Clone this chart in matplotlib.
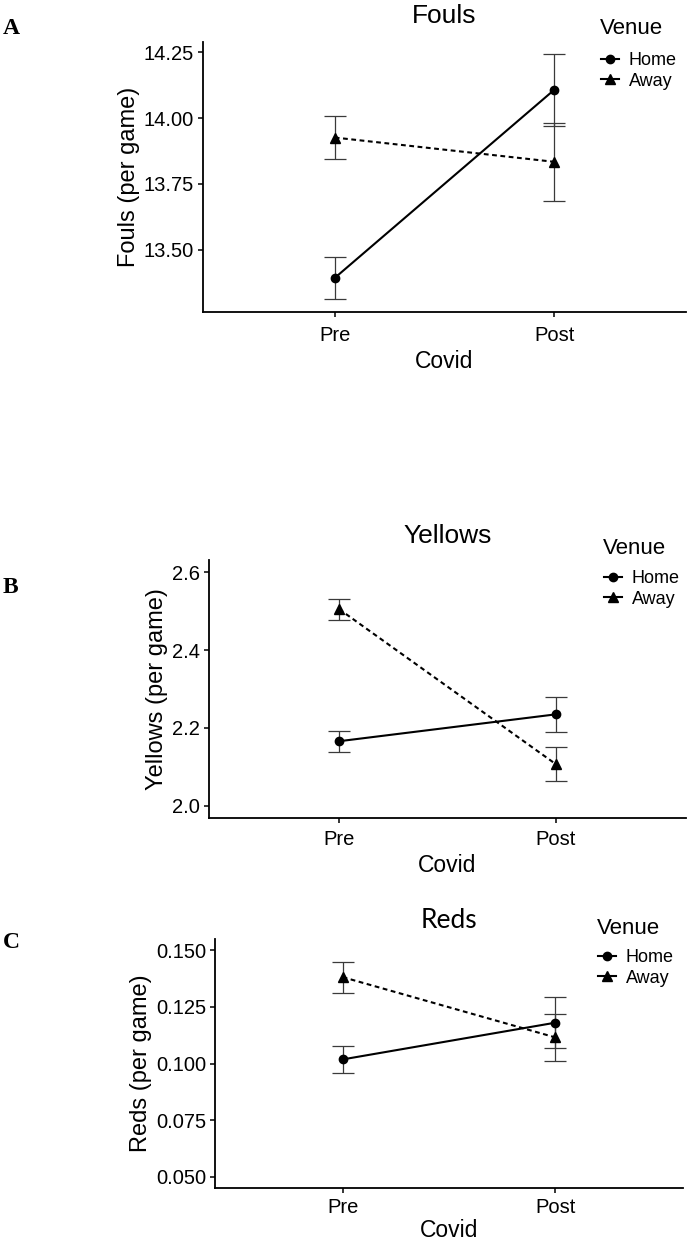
import numpy as np
import matplotlib
matplotlib.use("Agg")
import matplotlib.pyplot as plt
from matplotlib.lines import Line2D

plt.rcParams['font.family'] = ['Liberation Sans', 'DejaVu Sans']

# ---- data ----
covid = ['Pre', 'Post']
venues = ['Home', 'Away']

fouls_home = [13.394, 14.107]
fouls_home_err = [0.081, 0.137]
fouls_away = [13.926, 13.834]
fouls_away_err = [0.081, 0.147]

yellows_home = [2.166, 2.235]
yellows_home_err = [0.027, 0.045]
yellows_away = [2.505, 2.107]
yellows_away_err = [0.027, 0.043]

reds_home = [0.1018, 0.1180]
reds_home_err = [0.0060, 0.0112]
reds_away = [0.1381, 0.1115]
reds_away_err = [0.0068, 0.0102]

fouls_ticks = [13.50, 13.75, 14.00, 14.25]
yellows_ticks = [2.0, 2.2, 2.4, 2.6]
reds_ticks = [0.050, 0.075, 0.100, 0.125, 0.150]

W, H = 688, 1244
fig = plt.figure(figsize=(W / 100, H / 100), dpi=100)


def px_axes(left, top, right, bottom):
    return fig.add_axes([left / W, 1 - bottom / H, (right - left) / W, (bottom - top) / H])


def panel(ax, home, home_err, away, away_err, ticks, fmt, ylim, title, ylabel,
          title_pad, title_font, xpad, xlabelpad, leg_x, venue_y, home_y, letter, letter_y):
    x = np.arange(1, len(covid) + 1)
    ebc = '#3a3a3a'
    ax.errorbar(x, home, yerr=home_err, fmt='none', ecolor=ebc, elinewidth=0.9,
                capsize=8, capthick=0.9, zorder=2)
    ax.errorbar(x, away, yerr=away_err, fmt='none', ecolor=ebc, elinewidth=0.9,
                capsize=8, capthick=0.9, zorder=2)
    ax.plot(x, home, color='black', lw=1.5, marker='o', ms=6, zorder=3)
    ax.plot(x, away, color='black', lw=1.5, ls=(0, (2.3, 1.7)), marker='^', ms=6.5, zorder=3)

    ax.set_xlim(0.4, 2.6)
    ax.set_ylim(*ylim)
    ax.set_xticks(x)
    ax.set_xticklabels(covid)
    ax.set_yticks(ticks)
    ax.set_yticklabels([fmt.format(t) for t in ticks])
    for s in ['top', 'right']:
        ax.spines[s].set_visible(False)
    for s in ['left', 'bottom']:
        ax.spines[s].set_linewidth(1.3)
    ax.tick_params(labelsize=14.5, length=3.5, width=1.1, colors='black')
    ax.tick_params(axis='y', pad=3)
    ax.tick_params(axis='x', pad=xpad)
    ax.set_xlabel('Covid', fontsize=16.5, labelpad=xlabelpad)
    ax.set_ylabel(ylabel, fontsize=17, labelpad=3)
    ax.set_title(title, fontsize=19, pad=title_pad, family=title_font)

    # legend: title as text, keys as a frameless legend below it
    fig.text(leg_x / W, 1 - venue_y / H, 'Venue', fontsize=16, va='center', ha='left')
    handles = [Line2D([], [], color='black', lw=1.5, marker='o', ms=6),
               Line2D([], [], color='black', lw=1.5, marker='^', ms=6.5)]
    ax.legend(handles, venues, loc='upper left',
              bbox_to_anchor=((leg_x + 1) / W, 1 - (home_y - 10) / H),
              bbox_transform=fig.transFigure, frameon=False, fontsize=13,
              handlelength=1.0, handletextpad=0.55, labelspacing=0.2,
              borderpad=0, borderaxespad=0)
    fig.text(3 / W, 1 - letter_y / H, letter, family='Liberation Serif',
             fontweight='bold', fontsize=17, va='center', ha='left')


ax_a = px_axes(203, 42, 686, 312)
panel(ax_a, fouls_home, fouls_home_err, fouls_away, fouls_away_err,
      fouls_ticks, '{:.2f}', (13.265, 14.288), 'Fouls', 'Fouls (per game)',
      14, 'Liberation Sans', 6.5, 3.5, 600, 28, 62, 'A', 29)

ax_b = px_axes(209, 560, 686, 818)
panel(ax_b, yellows_home, yellows_home_err, yellows_away, yellows_away_err,
      yellows_ticks, '{:.1f}', (1.969, 2.631), 'Yellows', 'Yellows (per game)',
      12, 'Liberation Sans', 5, 3.5, 603, 548, 580, 'B', 588)

ax_c = px_axes(215, 939, 683, 1188)
panel(ax_c, reds_home, reds_home_err, reds_away, reds_away_err,
      reds_ticks, '{:.3f}', (0.0451, 0.1549), 'Reds', 'Reds (per game)',
      8, 'Lato', 4, 1, 597, 928, 959, 'C', 943)

fig.savefig('out.png', dpi=100)
